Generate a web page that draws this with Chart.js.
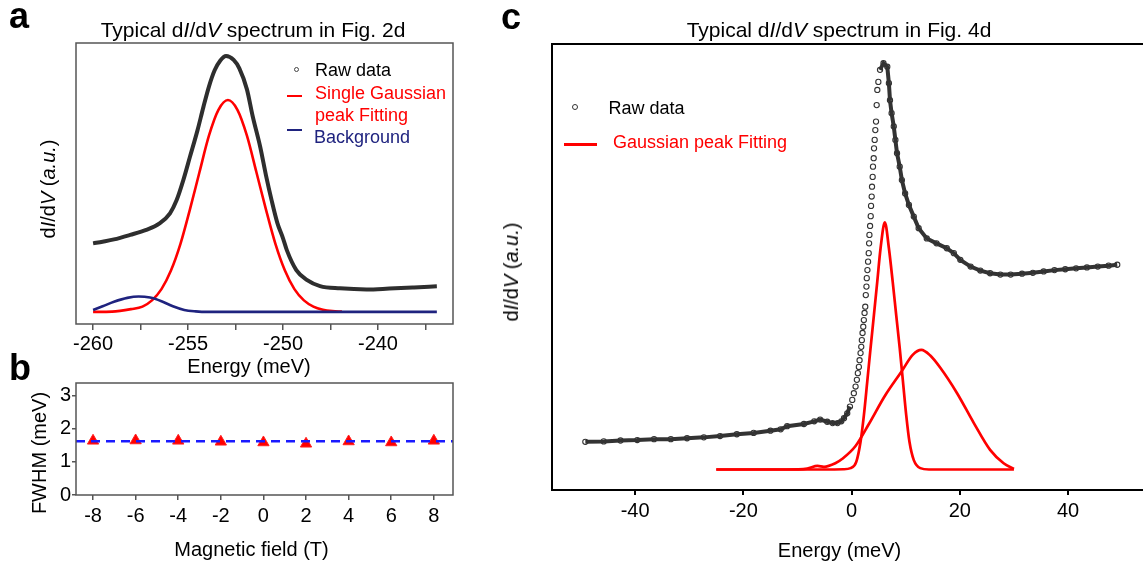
<!DOCTYPE html>
<html><head><meta charset="utf-8">
<script src="https://cdn.jsdelivr.net/npm/chart.js@4.4.1/dist/chart.umd.min.js"></script>
<style>
html,body{margin:0;padding:0;background:#fff;}
body{width:1143px;height:565px;overflow:hidden;position:relative;font-family:"Liberation Sans",Arial,sans-serif;color:#000;}
canvas{position:absolute;}
.t{position:absolute;line-height:1;white-space:nowrap;}
.c{transform:translateX(-50%);}
.r{transform:translate(-50%,-50%) rotate(-90deg);}
.lt{font-weight:bold;font-size:36px;}
</style></head><body>
<canvas id="ca" width="470" height="380" style="left:0;top:0"></canvas>
<canvas id="cb" width="470" height="195" style="left:0;top:370px"></canvas>
<canvas id="cc" width="680" height="565" style="left:490px;top:0"></canvas>

<div class="t lt" style="left:9px;top:-2.5px">a</div>
<div class="t lt" style="left:9px;top:349.5px">b</div>
<div class="t lt" style="left:501px;top:-1.5px">c</div>

<div class="t c" style="left:253px;top:19.2px;font-size:21px">Typical d<i>I</i>/d<i>V</i> spectrum in Fig. 2d</div>
<div class="t c" style="left:839px;top:19.2px;font-size:21px">Typical d<i>I</i>/d<i>V</i> spectrum in Fig. 4d</div>

<div class="t c" style="left:249px;top:355.8px;font-size:20px">Energy (meV)</div>
<div class="t c" style="left:251.5px;top:539px;font-size:20px">Magnetic field (T)</div>
<div class="t c" style="left:839.5px;top:539.8px;font-size:20px">Energy (meV)</div>

<div class="t r" style="left:48px;top:188.5px;font-size:20px">d<i>I</i>/d<i>V</i> (<i>a.u.</i>)</div>
<div class="t r" style="left:39px;top:453px;font-size:20px">FWHM (meV)</div>
<div class="t r" style="left:511px;top:272px;font-size:20px">d<i>I</i>/d<i>V</i> (<i>a.u.</i>)</div>

<!-- legend a -->
<div style="position:absolute;left:293.5px;top:66.5px;width:3px;height:3px;border:1px solid #444;border-radius:50%"></div>
<div class="t" style="left:315px;top:60.8px;font-size:18px">Raw data</div>
<div style="position:absolute;left:287px;top:95px;width:15px;height:2px;background:#ff0000"></div>
<div class="t" style="left:315px;top:84.1px;font-size:18px;color:#ff0000">Single Gaussian</div>
<div class="t" style="left:315px;top:105.5px;font-size:18px;color:#ff0000">peak Fitting</div>
<div style="position:absolute;left:287px;top:129px;width:15px;height:2px;background:#1f237f"></div>
<div class="t" style="left:314px;top:128px;font-size:18px;color:#1f237f">Background</div>

<!-- legend c -->
<div style="position:absolute;left:571.5px;top:103.5px;width:4.5px;height:4.5px;border:1.2px solid #333;border-radius:50%"></div>
<div class="t" style="left:608.5px;top:99.1px;font-size:18px">Raw data</div>
<div style="position:absolute;left:564px;top:143px;width:33px;height:2.5px;background:#ff0000"></div>
<div class="t" style="left:613px;top:133.1px;font-size:18px;color:#ff0000">Gaussian peak Fitting</div>

<script>
// ---------- Panel a: dI/dV spectrum (Fig. 2d) ----------
const aXRange = [-260.9, -241.05];
const aTickValues = [-260, -257.5, -255, -252.5, -250, -247.5, -245, -242.5];
const aTickLabels = ['-260', '', '-255', '', '-250', '', '-240', ''];
const aRawX = [-260.0,-259.5,-258.9,-258.05,-257.2,-256.5,-255.95,-255.6,-255.25,-254.9,-254.5,-254.2,-253.9,-253.6,-253.3,-253.0,-252.6,-252.3,-251.9,-251.6,-251.2,-250.9,-250.6,-250.3,-250.0,-249.8,-249.3,-248.75,-248.05,-247.0,-245.6,-244.4,-243.1,-241.9];
const aRawY = [28.7,29.3,30.1,31.7,33.5,35.8,39.4,44.1,51.2,59.5,69,77,84.5,90.3,93.8,95.4,94,91,83.5,74,63,53,44,36,30.5,26.3,19.2,15.7,13.5,12.7,12.3,12.6,13.0,13.4];
const aFitX = [-260.0,-259.0,-258.0,-257.4,-256.9,-256.4,-255.9,-255.4,-254.9,-254.4,-253.9,-253.4,-252.9,-252.4,-251.9,-251.4,-250.9,-250.4,-249.9,-249.4,-248.9,-248.4,-247.9,-247.4,-246.9];
const aFitY = [4.3,4.4,5.3,6.2,8.4,12.4,19.0,28.5,40.8,54.0,67.0,76.2,79.7,76.2,67.0,54.0,40.8,28.5,19.0,12.4,8.4,6.2,5.1,4.6,4.4];
const aBgX = [-260.0,-259.5,-258.9,-258.2,-257.6,-257.0,-256.4,-255.8,-255.2,-254.6,-254.0,-241.9];
const aBgY = [5.0,6.3,7.9,9.3,9.8,9.4,8.1,6.3,5.0,4.5,4.3,4.3];

// ---------- Panel b: FWHM vs magnetic field ----------
const bXRange = [-8.8, 8.9];
const bYRange = [0, 3.39];
const bTickValues = [-8, -6, -4, -2, 0, 2, 4, 6, 8];
const bYTickValues = [0, 1, 2, 3];
const bField = [-8, -6, -4, -2, 0, 2, 4, 6, 8];
const bFWHM = [1.64, 1.65, 1.64, 1.61, 1.59, 1.55, 1.62, 1.59, 1.64];
const bMeanFWHM = 1.63;

// ---------- Panel c: dI/dV spectrum (Fig. 4d) ----------
const cXRange = [-55.36, 57.0];
const cTickValues = [-40, -20, 0, 20, 40];
const cRawX = [-49.2,-45.8,-42.7,-39.6,-36.5,-33.4,-30.4,-27.3,-24.3,-21.2,-18.1,-15.0,-13.1,-11.9,-8.8,-6.9,-5.8,-4.5,-3.5,-2.6,-1.9,-1.4,-0.8,-0.3,0.13,0.42,0.74,0.98,1.16,1.35,1.48,1.66,1.79,1.9,2.03,2.16,2.27,2.4,2.53,2.63,2.75,2.81,2.93,3.05,3.17,3.24,3.3,3.42,3.54,3.6,3.72,3.78,3.9,3.96,4.09,4.15,4.27,4.39,4.52,4.64,4.76,4.95,5.26,5.9,6.6,6.9,7.1,7.4,7.8,8.1,8.4,8.9,9.3,9.9,10.6,11.5,12.4,13.9,15.7,17.6,18.9,20.1,22.0,23.8,25.6,27.5,29.4,31.5,33.5,35.5,37.5,39.5,41.5,43.5,45.5,47.5,49.1];
const cRawY = [10.8,10.9,11.1,11.2,11.4,11.4,11.6,11.8,12.1,12.5,12.8,13.3,13.6,14.3,14.8,15.4,15.8,15.3,15.0,15.0,15.4,16.1,17.2,18.7,20.2,21.7,23.2,24.7,26.2,27.6,29.1,30.7,32.1,33.6,35.2,36.6,38.1,39.7,41.1,43.7,45.6,47.5,49.3,51.2,53.1,55.3,57.2,59.2,61.4,63.7,65.8,68,70.2,72.5,74.4,76.6,78.5,80.7,82.6,86.3,89.7,91.5,94.2,95.7,94.9,91.2,87.4,84.5,81.5,78.5,75.5,72.5,69.5,66.5,63.9,61.3,58.7,56.4,55.3,54.2,53.1,51.6,50.1,49.2,48.6,48.3,48.3,48.5,48.7,49.0,49.3,49.5,49.7,49.9,50.1,50.3,50.5];
const cNarrowX = [-25,-5,-1.5,-0.18,0.87,1.66,2.28,2.9,3.51,4.13,4.75,5.36,6.15,6.9,7.6,8.25,8.9,9.5,10.1,10.7,11.5,12.7,14.3,30];
const cNarrowY = [4.6,4.6,4.65,4.9,6.3,10.8,16.8,24.3,31.8,39.2,46.7,54.2,60.0,54.2,46.7,39.2,31.8,24.3,16.8,10.8,6.7,4.9,4.6,4.6];
const cBroadX = [-25,-12,-8.2,-6.3,-5.1,-3.0,-1.7,0.7,3.2,6.2,9.3,11.3,12.9,14.5,16.4,19.5,22.6,25.6,28.1,30.0];
const cBroadY = [4.6,4.6,4.8,5.4,5.2,6.0,7.0,9.8,14.8,21.2,26.7,30.3,31.4,30.2,27.4,21.7,15.0,9.0,6.0,4.7];

// ---------- helpers ----------
Chart.defaults.font.family = '"Liberation Sans", Arial, sans-serif';
Chart.defaults.font.size = 20;
Chart.defaults.color = '#000';

const pts = (xs, ys) => xs.map((x, i) => ({x: x, y: ys[i]}));
const fixedTicks = vals => (s => { s.ticks = vals.map(v => ({value: v})); });

const framePlugin = {
  id: 'frame',
  afterDraw(chart, args, o) {
    const {ctx, chartArea: a} = chart;
    ctx.save();
    ctx.strokeStyle = o.color;
    ctx.lineWidth = o.width;
    ctx.strokeRect(a.left, a.top, a.right - a.left, a.bottom - a.top);
    ctx.restore();
  }
};

const common = {
  responsive: false,
  animation: false,
  events: [],
};

// ---------- Chart a ----------
new Chart(document.getElementById('ca'), {
  type: 'line',
  data: { datasets: [
    { data: pts(aBgX, aBgY), borderColor: '#1f237f', borderWidth: 2.6, pointRadius: 0, cubicInterpolationMode: 'monotone' },
    { data: pts(aFitX, aFitY), borderColor: '#ff0000', borderWidth: 2.6, pointRadius: 0, cubicInterpolationMode: 'monotone' },
    { data: pts(aRawX, aRawY), borderColor: '#2e2e2e', borderWidth: 4, pointRadius: 0, cubicInterpolationMode: 'monotone' }
  ]},
  options: Object.assign({}, common, {
    layout: { padding: { left: 0, top: 43, right: 17, bottom: 0 } },
    plugins: { legend: { display: false }, tooltip: { enabled: false }, frame: { color: '#555', width: 1.5 } },
    scales: {
      x: { type: 'linear', min: aXRange[0], max: aXRange[1],
           afterBuildTicks: fixedTicks(aTickValues), afterFit: s => { s.height = 56; },
           ticks: { callback: (v, i) => aTickLabels[i], padding: 2, maxRotation: 0, autoSkip: false },
           grid: { drawOnChartArea: false, tickLength: 6, color: '#555', lineWidth: 1.5 }, border: { display: false } },
      y: { min: 0, max: 100, afterFit: s => { s.width = 76; },
           ticks: { display: false }, grid: { display: false }, border: { display: false } }
    }
  }),
  plugins: [framePlugin]
});

// ---------- Chart b ----------
new Chart(document.getElementById('cb'), {
  type: 'line',
  data: { datasets: [
    { data: pts(bXRange, [bMeanFWHM, bMeanFWHM]), borderColor: '#1a1aff', borderWidth: 2.5, borderDash: [9, 6], pointRadius: 0, order: 0 },
    { data: pts(bField, bFWHM), showLine: false, pointStyle: 'triangle', pointRadius: 6.5, backgroundColor: '#ff0000', borderColor: '#ff2020', pointBorderWidth: 1, order: 1 }
  ]},
  options: Object.assign({}, common, {
    layout: { padding: { left: 0, top: 10, right: 17, bottom: 0 } },
    plugins: { legend: { display: false }, tooltip: { enabled: false }, frame: { color: '#555', width: 1.5 } },
    scales: {
      x: { type: 'linear', min: bXRange[0], max: bXRange[1],
           afterBuildTicks: fixedTicks(bTickValues), afterFit: s => { s.height = 70; },
           ticks: { padding: 4.7, maxRotation: 0, autoSkip: false },
           grid: { drawOnChartArea: false, tickLength: 5, color: '#555', lineWidth: 1.5 }, border: { display: false } },
      y: { min: bYRange[0], max: bYRange[1],
           afterBuildTicks: fixedTicks(bYTickValues), afterFit: s => { s.width = 76; },
           ticks: { padding: 1 },
           grid: { drawOnChartArea: false, tickLength: 4, color: '#555', lineWidth: 1.5 }, border: { display: false } }
    }
  }),
  plugins: [framePlugin]
});

// ---------- Chart c ----------
new Chart(document.getElementById('cc'), {
  type: 'line',
  data: { datasets: [
    { data: pts(cBroadX, cBroadY), borderColor: '#ff0000', borderWidth: 2.7, pointRadius: 0, cubicInterpolationMode: 'monotone' },
    { data: pts(cNarrowX, cNarrowY), borderColor: '#ff0000', borderWidth: 2.7, pointRadius: 0, cubicInterpolationMode: 'monotone' },
    { data: pts(cRawX, cRawY), borderColor: '#333', borderWidth: 4, tension: 0,
      pointRadius: 2.6, pointBorderWidth: 1.1, pointBorderColor: '#333', pointBackgroundColor: 'rgba(255,255,255,0)',
      segment: { borderColor: ctx => (ctx.p1.parsed.y - ctx.p0.parsed.y > 0.8 && ctx.p1.parsed.x - ctx.p0.parsed.x < 0.45) ? 'rgba(0,0,0,0)' : undefined } }
  ]},
  options: Object.assign({}, common, {
    layout: { padding: { left: 0, top: 44, right: 10, bottom: 0 } },
    plugins: { legend: { display: false }, tooltip: { enabled: false }, frame: { color: '#000', width: 2 } },
    scales: {
      x: { type: 'linear', min: cXRange[0], max: cXRange[1],
           afterBuildTicks: fixedTicks(cTickValues), afterFit: s => { s.height = 75; },
           ticks: { padding: 4.7, maxRotation: 0, autoSkip: false },
           grid: { drawOnChartArea: false, tickLength: 5, color: '#000', lineWidth: 2 }, border: { display: false } },
      y: { min: 0, max: 100, afterFit: s => { s.width = 62; },
           ticks: { display: false }, grid: { display: false }, border: { display: false } }
    }
  }),
  plugins: [framePlugin]
});
</script>
</body></html>
